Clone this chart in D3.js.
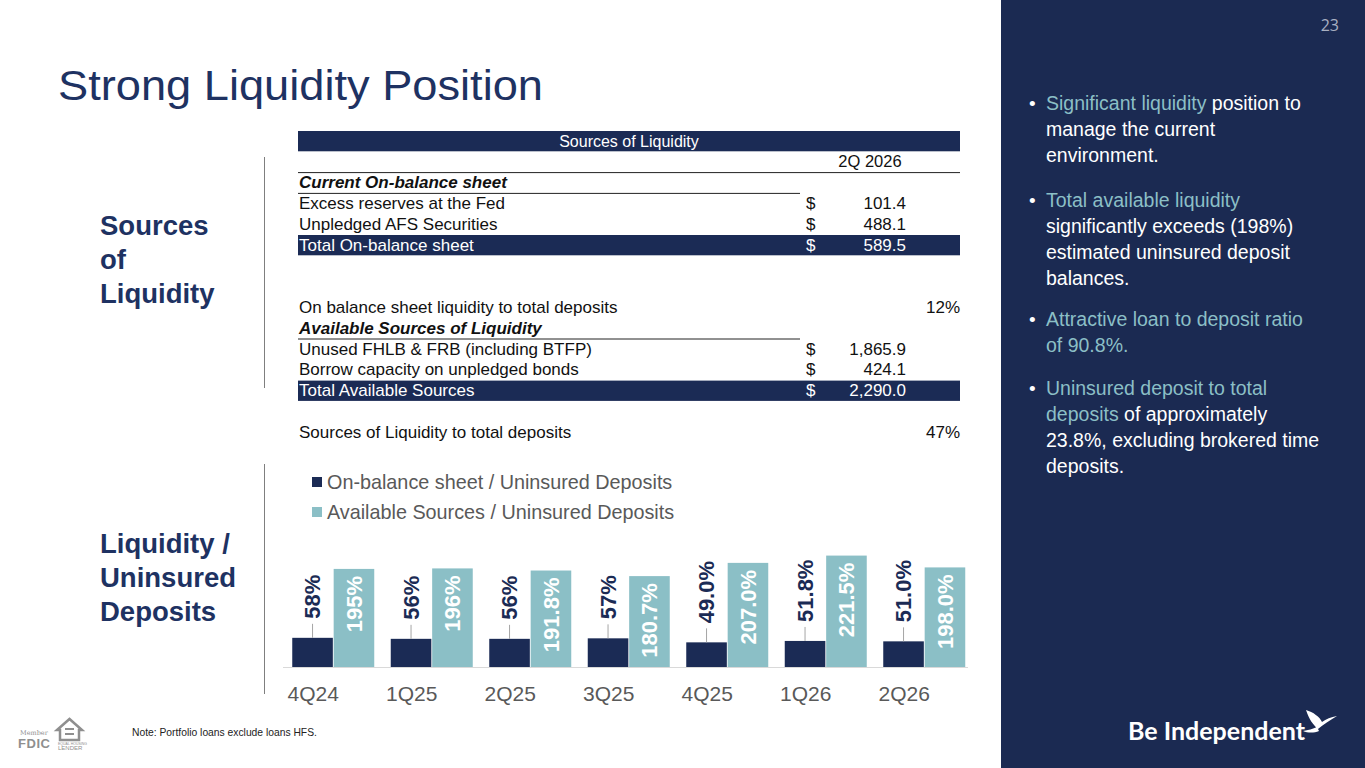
<!DOCTYPE html>
<html>
<head>
<meta charset="utf-8">
<script src="https://cdn.jsdelivr.net/npm/d3@7"></script>
<style>
  html, body { margin: 0; padding: 0; background: #fff; }
  svg { display: block; font-family: "Liberation Sans", Arial, sans-serif; }
</style>
</head>
<body>
<svg id="slide" width="1365" height="768"></svg>
<script>
// ---- data ----
var quarters = ['4Q24', '1Q25', '2Q25', '3Q25', '4Q25', '1Q26', '2Q26'];
var onBalance = [58, 56, 56, 57, 49.0, 51.8, 51.0];
var onBalanceLabels = ['58%', '56%', '56%', '57%', '49.0%', '51.8%', '51.0%'];
var available = [195, 196, 191.8, 180.7, 207.0, 221.5, 198.0];
var availableLabels = ['195%', '196%', '191.8%', '180.7%', '207.0%', '221.5%', '198.0%'];
var seriesNames = ['On-balance sheet / Uninsured Deposits', 'Available Sources / Uninsured Deposits'];

var tableLabels = [
  'Sources of Liquidity', '', 'Current On-balance sheet',
  'Excess reserves at the Fed', 'Unpledged AFS Securities', 'Total On-balance sheet',
  '', '', 'On balance sheet liquidity to total deposits', 'Available Sources of Liquidity',
  'Unused FHLB & FRB (including BTFP)', 'Borrow capacity on unpledged bonds', 'Total Available Sources',
  '', 'Sources of Liquidity to total deposits'
];
var tableKinds = ['title', 'colhead', 'section', 'row', 'row', 'total', 'blank', 'blank',
  'ratio', 'section', 'row', 'row', 'total', 'blank', 'ratio'];
var tableValues = ['', '2Q 2026', '', '101.4', '488.1', '589.5', '', '', '12%', '',
  '1,865.9', '424.1', '2,290.0', '', '47%'];

// bullet text, wrapped as on the slide; text before '|' is highlighted
var bulletLines = [
  ['Significant liquidity| position to', 'manage the current', 'environment.'],
  ['Total available liquidity|', 'significantly exceeds (198%)', 'estimated uninsured deposit', 'balances.'],
  ['Attractive loan to deposit ratio|', 'of 90.8%.|'],
  ['Uninsured deposit to total|', 'deposits| of approximately', '23.8%, excluding brokered time', 'deposits.']
];

// ---- colours ----
var navy = '#1b2b55';
var teal = '#8bbfc6';
var titleBlue = '#1e3262';
var grayText = '#595959';

var svg = d3.select('#slide');

// ---- right panel ----
svg.append('rect')
  .attr('x', 1001).attr('y', 0)
  .attr('width', 364).attr('height', 768)
  .attr('fill', '#1b2a52');

svg.append('text')
  .attr('x', 1339).attr('y', 31)
  .attr('text-anchor', 'end')
  .attr('font-family', 'Open Sans, sans-serif')
  .attr('font-size', 16)
  .attr('fill', '#a9b0c2')
  .text('23');

var bulletStart = [110, 207, 326, 395];
var lineStep = 26;
bulletLines.forEach(function(lines, i) {
  svg.append('text')
    .attr('x', 1029).attr('y', bulletStart[i])
    .attr('font-size', 19)
    .attr('fill', '#ffffff')
    .text('\u2022');
  lines.forEach(function(line, j) {
    var parts = line.split('|');
    var t = svg.append('text')
      .attr('x', 1046).attr('y', bulletStart[i] + j * lineStep)
      .attr('font-size', 19.5);
    if (parts.length > 1) {
      t.append('tspan').attr('fill', teal).text(parts[0]);
      t.append('tspan').attr('fill', '#ffffff').text(parts[1]);
    } else {
      t.append('tspan').attr('fill', '#ffffff').text(parts[0]);
    }
  });
});

// ---- title ----
svg.append('text')
  .attr('x', 58).attr('y', 100)
  .attr('font-size', 42)
  .attr('textLength', 485)
  .attr('lengthAdjust', 'spacingAndGlyphs')
  .attr('fill', titleBlue)
  .text('Strong Liquidity Position');

// ---- left section labels ----
function sideLabel(lines, y0) {
  lines.forEach(function(s, i) {
    svg.append('text')
      .attr('x', 100).attr('y', y0 + i * 34)
      .attr('font-size', 27.5)
      .attr('font-weight', 'bold')
      .attr('fill', titleBlue)
      .text(s);
  });
}
sideLabel(['Sources', 'of', 'Liquidity'], 235);
sideLabel(['Liquidity /', 'Uninsured', 'Deposits'], 553);

[[157, 388], [464, 694]].forEach(function(s) {
  svg.append('line')
    .attr('x1', 264.5).attr('x2', 264.5)
    .attr('y1', s[0]).attr('y2', s[1])
    .attr('stroke', '#7f7f7f').attr('stroke-width', 1);
});

// ---- table ----
var tLeft = 298, tRight = 960, dollarX = 806, valueX = 906, underlineEnd = 800;
var rowY = d3.scaleBand()
  .domain(d3.range(tableLabels.length))
  .range([131, 131 + tableLabels.length * 20.8]);

var table = svg.append('g');
tableLabels.forEach(function(label, i) {
  var kind = tableKinds[i];
  var y0 = rowY(i);
  var base = y0 + 15.5;
  var dark = (kind === 'title' || kind === 'total');
  if (dark) {
    table.append('rect')
      .attr('x', tLeft).attr('y', y0)
      .attr('width', tRight - tLeft).attr('height', rowY.bandwidth() - 0.5)
      .attr('fill', navy);
  }
  var fill = dark ? '#ffffff' : '#111111';
  if (kind === 'title') {
    table.append('text')
      .attr('x', (tLeft + tRight) / 2).attr('y', base)
      .attr('text-anchor', 'middle')
      .attr('font-size', 16).attr('fill', fill)
      .text(label);
    return;
  }
  if (kind === 'colhead') {
    table.append('text')
      .attr('x', 870).attr('y', base)
      .attr('text-anchor', 'middle')
      .attr('font-size', 16.5).attr('fill', fill)
      .text(tableValues[i]);
    table.append('line')
      .attr('x1', tLeft).attr('x2', tRight)
      .attr('y1', y0 + rowY.bandwidth()).attr('y2', y0 + rowY.bandwidth())
      .attr('stroke', '#222').attr('stroke-width', 1);
    return;
  }
  if (kind === 'blank') return;
  var lab = table.append('text')
    .attr('x', tLeft + 1).attr('y', base)
    .attr('font-size', 17).attr('fill', fill)
    .text(label);
  if (kind === 'section') {
    lab.attr('font-weight', 'bold').attr('font-style', 'italic');
    table.append('line')
      .attr('x1', tLeft).attr('x2', underlineEnd)
      .attr('y1', y0 + rowY.bandwidth()).attr('y2', y0 + rowY.bandwidth())
      .attr('stroke', '#222').attr('stroke-width', 1);
  }
  if (kind === 'row' || kind === 'total') {
    table.append('text')
      .attr('x', dollarX).attr('y', base)
      .attr('font-size', 17).attr('fill', fill)
      .text('$');
    table.append('text')
      .attr('x', valueX).attr('y', base)
      .attr('text-anchor', 'end')
      .attr('font-size', 17).attr('fill', fill)
      .text(tableValues[i]);
  }
  if (kind === 'ratio') {
    table.append('text')
      .attr('x', tRight).attr('y', base)
      .attr('text-anchor', 'end')
      .attr('font-size', 17).attr('fill', fill)
      .text(tableValues[i]);
  }
});

// ---- bar chart ----
var baseY = 667;
var x = d3.scaleBand()
  .domain(quarters)
  .range([264, 953.5])
  .paddingInner(0.17)
  .paddingOuter(0.085);
// bars sit to the right of the category centre, as on the slide
var xs = d3.scaleBand()
  .domain([0, 1])
  .range([-21, 61])
  .paddingInner(0.02);
function cx(q) { return x(q) + x.bandwidth() / 2; }
var y = d3.scaleLinear()
  .domain([0, 250])
  .range([baseY, baseY - 0.503 * 250]);

var chart = svg.append('g');

var axis = chart.append('g')
  .attr('transform', 'translate(0,' + baseY + ')')
  .call(d3.axisBottom(x).tickSize(0).tickPadding(19));
axis.select('.domain').remove();
axis.selectAll('text')
  .attr('font-family', '"Liberation Sans", Arial, sans-serif')
  .attr('font-size', 21)
  .attr('fill', grayText);

chart.append('line')
  .attr('x1', 283).attr('x2', 968)
  .attr('y1', baseY + 0.5).attr('y2', baseY + 0.5)
  .attr('stroke', '#d9d9d9').attr('stroke-width', 1);

var rows = quarters.map(function(q, i) {
  return { q: q, a: onBalance[i], al: onBalanceLabels[i], b: available[i], bl: availableLabels[i] };
});

chart.selectAll('rect.onb')
  .data(rows)
  .enter()
  .append('rect')
    .classed('onb', true)
    .attr('x', function(d) { return cx(d.q) + xs(0); })
    .attr('y', function(d) { return y(d.a); })
    .attr('width', xs.bandwidth())
    .attr('height', function(d) { return baseY - y(d.a); })
    .attr('fill', navy);

chart.selectAll('rect.avail')
  .data(rows)
  .enter()
  .append('rect')
    .classed('avail', true)
    .attr('x', function(d) { return cx(d.q) + xs(1); })
    .attr('y', function(d) { return y(d.b); })
    .attr('width', xs.bandwidth())
    .attr('height', function(d) { return baseY - y(d.b); })
    .attr('fill', teal);

chart.selectAll('line.leader')
  .data(rows)
  .enter()
  .append('line')
    .classed('leader', true)
    .attr('x1', function(d) { return cx(d.q) + xs(0) + xs.bandwidth() / 2; })
    .attr('x2', function(d) { return cx(d.q) + xs(0) + xs.bandwidth() / 2; })
    .attr('y1', function(d) { return y(d.a); })
    .attr('y2', function(d) { return y(d.a) - 14; })
    .attr('stroke', '#a6a6a6').attr('stroke-width', 1);

chart.selectAll('text.onbl')
  .data(rows)
  .enter()
  .append('text')
    .classed('onbl', true)
    .attr('transform', function(d) {
      return 'translate(' + (cx(d.q) + xs(0) + xs.bandwidth() / 2) + ',' + (y(d.a) - 19) + ') rotate(-90)';
    })
    .attr('dy', '0.36em')
    .attr('font-size', 22)
    .attr('font-weight', 'bold')
    .attr('fill', navy)
    .text(function(d) { return d.al; });

chart.selectAll('text.availl')
  .data(rows)
  .enter()
  .append('text')
    .classed('availl', true)
    .attr('transform', function(d) {
      return 'translate(' + (cx(d.q) + xs(1) + xs.bandwidth() / 2) + ',' + (y(d.b) + 7) + ') rotate(-90)';
    })
    .attr('dy', '0.36em')
    .attr('text-anchor', 'end')
    .attr('font-size', 22)
    .attr('font-weight', 'bold')
    .attr('fill', '#ffffff')
    .text(function(d) { return d.bl; });

// legend
var legend = chart.append('g');
seriesNames.forEach(function(name, i) {
  legend.append('rect')
    .attr('x', 312).attr('y', 477 + i * 30)
    .attr('width', 10).attr('height', 10)
    .attr('fill', i === 0 ? navy : teal);
  legend.append('text')
    .attr('x', 327).attr('y', 489 + i * 30)
    .attr('font-size', 19.8)
    .attr('fill', grayText)
    .text(name);
});

// ---- footer ----
svg.append('text')
  .attr('x', 132).attr('y', 736)
  .attr('font-size', 10.3)
  .attr('fill', '#222')
  .text('Note: Portfolio loans exclude loans HFS.');

var fdic = svg.append('g').attr('fill', '#8f8f8f');
fdic.append('text')
  .attr('x', 20).attr('y', 735)
  .attr('font-family', 'DejaVu Serif, serif')
  .attr('font-size', 6.5)
  .text('Member');
fdic.append('text')
  .attr('x', 18).attr('y', 748)
  .attr('font-size', 13).attr('font-weight', 'bold')
  .attr('textLength', 32)
  .text('FDIC');
fdic.append('path')
  .attr('d', 'M57,730 L69.5,719 L82,730 L79,730 L79,740 L60,740 L60,730 Z')
  .attr('fill', 'none').attr('stroke', '#8f8f8f').attr('stroke-width', 2.5);
fdic.append('rect').attr('x', 65).attr('y', 728).attr('width', 9).attr('height', 2);
fdic.append('rect').attr('x', 65).attr('y', 733).attr('width', 9).attr('height', 2);
fdic.append('text')
  .attr('x', 58).attr('y', 745)
  .attr('font-size', 3.5)
  .text('EQUAL HOUSING');
fdic.append('text')
  .attr('x', 58).attr('y', 750)
  .attr('font-size', 6)
  .text('LENDER');

// Be Independent logo
svg.append('text')
  .attr('x', 1128).attr('y', 740)
  .attr('font-family', 'Lato, sans-serif')
  .attr('font-size', 25)
  .attr('font-weight', 'bold')
  .attr('fill', '#ffffff')
  .text('Be Independent');
svg.append('path')
  .attr('d', 'M1306,710 C1309,719 1313,725 1318,729 C1323,725 1330,720 1337,716 C1331,717 1326,719 1322,722 C1320,717 1313,712 1306,710 Z M1303,731 C1308,733 1314,733 1319,731 L1317,727 C1313,729 1308,730 1303,731 Z')
  .attr('fill', '#ffffff');
</script>
</body>
</html>
